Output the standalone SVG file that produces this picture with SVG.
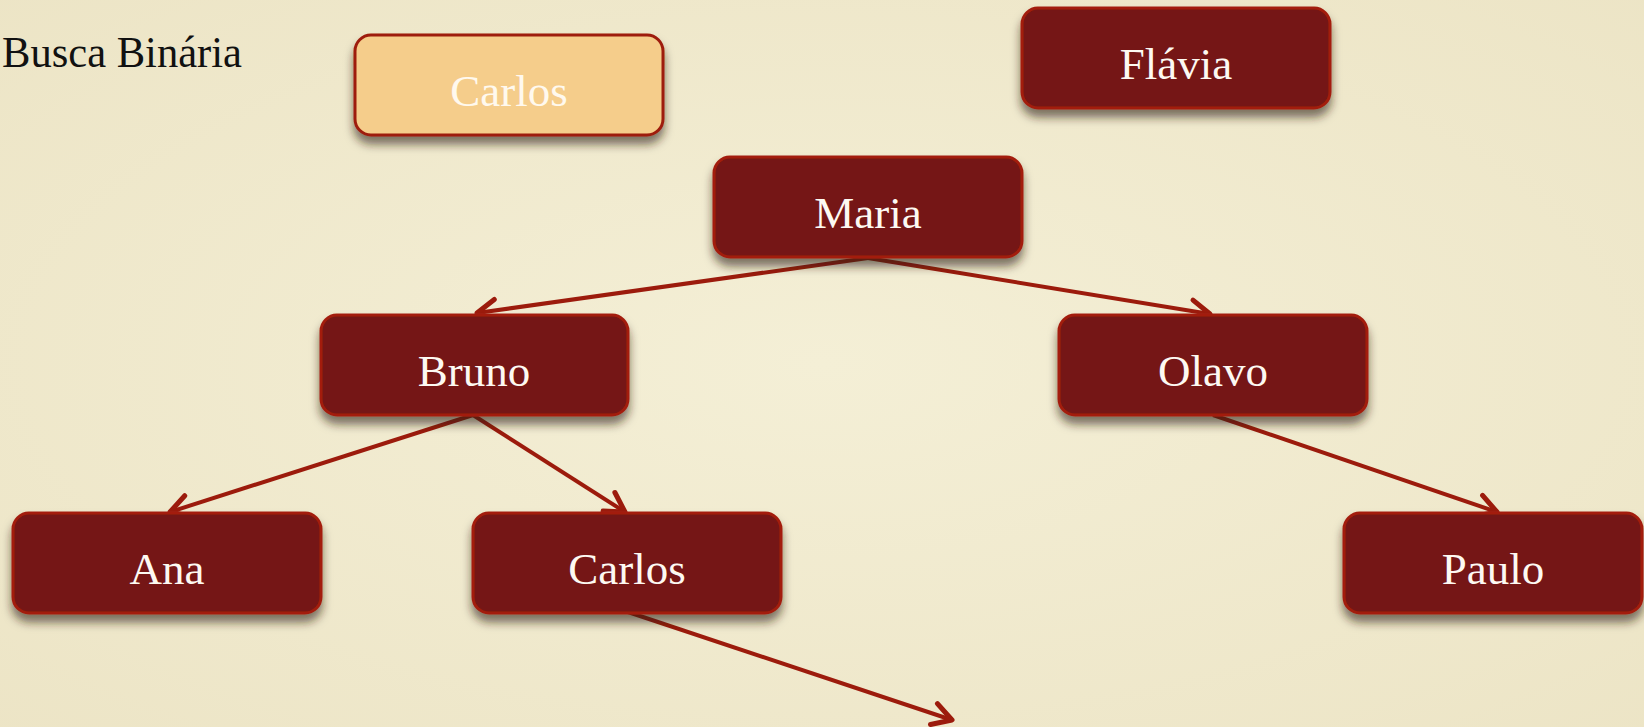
<svg xmlns="http://www.w3.org/2000/svg" width="1644" height="727" viewBox="0 0 1644 727">
<defs>
<radialGradient id="bg" cx="50%" cy="50%" r="75%">
<stop offset="0" stop-color="#f4efd6"/>
<stop offset="1" stop-color="#ece4c5"/>
</radialGradient>
<filter id="sh" x="-10%" y="-20%" width="120%" height="160%">
<feDropShadow dx="0" dy="8" stdDeviation="5" flood-color="#2a1a08" flood-opacity="0.6"/>
</filter>
<marker id="arr" viewBox="-24 -14 28 28" refX="0" refY="0" markerWidth="28" markerHeight="28" markerUnits="userSpaceOnUse" orient="auto">
<path d="M-19,-11 L0,0 L-19,11" fill="none" stroke="#9c1b0c" stroke-width="5" stroke-linecap="round" stroke-linejoin="round"/>
</marker>
<style>
.box{fill:#741913;stroke:#a31f0e;stroke-width:3;filter:url(#sh)}
.boxy{fill:#f5cd8b;stroke:#9e1d0c;stroke-width:3;filter:url(#sh)}
.lbl{font-family:"Liberation Serif","DejaVu Serif",serif;font-size:45px;fill:#fdf9f2;text-anchor:middle}
.lbly{font-family:"Liberation Serif","DejaVu Serif",serif;font-size:45px;fill:#fff9ee;text-anchor:middle}
.title{font-family:"Liberation Serif","DejaVu Serif",serif;font-size:44px;fill:#111}
.edge{fill:none;stroke:#9c1b0c;stroke-width:4;marker-end:url(#arr)}
</style>
</defs>
<rect x="0" y="0" width="1644" height="727" fill="url(#bg)"/>
<text class="title" x="2" y="67" textLength="240" lengthAdjust="spacingAndGlyphs">Busca Binária</text>
<g id="connectors">
<line class="edge" x1="868" y1="258" x2="477" y2="313"/>
<line class="edge" x1="868" y1="258" x2="1210" y2="314"/>
<line class="edge" x1="473" y1="415" x2="170" y2="512"/>
<line class="edge" x1="473" y1="415" x2="625" y2="512"/>
<line class="edge" x1="1213" y1="415" x2="1497" y2="512"/>
<line class="edge" x1="628" y1="612" x2="952" y2="720"/>
</g>
<g id="node-carlos-search">
<rect class="boxy" x="355" y="35" width="308" height="100" rx="16"/>
<text class="lbly" x="509" y="106">Carlos</text>
</g>
<g id="node-flavia">
<rect class="box" x="1022" y="8" width="308" height="100" rx="16"/>
<text class="lbl" x="1176" y="79">Flávia</text>
</g>
<g id="node-maria">
<rect class="box" x="714" y="157" width="308" height="100" rx="16"/>
<text class="lbl" x="868" y="228">Maria</text>
</g>
<g id="node-bruno">
<rect class="box" x="321" y="315" width="307" height="100" rx="16"/>
<text class="lbl" x="474" y="386">Bruno</text>
</g>
<g id="node-olavo">
<rect class="box" x="1059" y="315" width="308" height="100" rx="16"/>
<text class="lbl" x="1213" y="386">Olavo</text>
</g>
<g id="node-ana">
<rect class="box" x="13" y="513" width="308" height="100" rx="16"/>
<text class="lbl" x="167" y="584">Ana</text>
</g>
<g id="node-carlos">
<rect class="box" x="473" y="513" width="308" height="100" rx="16"/>
<text class="lbl" x="627" y="584">Carlos</text>
</g>
<g id="node-paulo">
<rect class="box" x="1344" y="513" width="298" height="100" rx="16"/>
<text class="lbl" x="1493" y="584">Paulo</text>
</g>
</svg>
